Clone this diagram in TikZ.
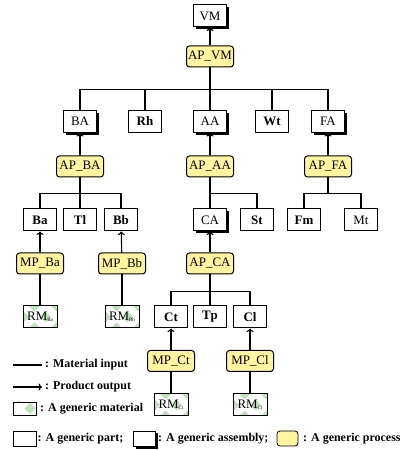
\documentclass[tikz,border=0pt]{standalone}
\usepackage{fontspec}
\setmainfont{Liberation Serif}
\usetikzlibrary{shadows,arrows.meta}
\definecolor{procfill}{RGB}{255,244,160}
\definecolor{matgreen}{RGB}{190,226,184}
\newcommand{\rmsub}[1]{RM\raisebox{-1.5bp}{\fontsize{5}{5}\selectfont #1}}
\begin{document}
\begin{tikzpicture}[x=1bp,y=1bp,
  txt/.style={font=\fontsize{13}{15}\selectfont},
  btxt/.style={font=\fontsize{13}{15}\selectfont\bfseries},
  ltxt/.style={font=\fontsize{12}{14}\selectfont\bfseries},
  box/.style={draw=black, line width=1bp, fill=white, minimum width=33bp, minimum height=22bp, inner sep=0pt, txt},
  bold/.style={btxt},
  assembly/.style={box, drop shadow={shadow xshift=2.5bp, shadow yshift=-2.5bp, fill=black, opacity=1}},
  proc/.style={box, fill=procfill, rounded corners=3bp, minimum width=47bp, minimum height=21bp},
  matpat/.style={path picture={
    \foreach \i in {-3,...,3}{\foreach \j in {-2,...,2}{
      \pgfmathtruncatemacro{\matpar}{mod(abs(\i+\j),2)}
      \ifnum\matpar=0
      \fill[matgreen] ([shift={(\i*11bp+5.5bp,\j*11bp)}]path picture bounding box.center) +(-5.5bp,0bp) -- +(0bp,5.5bp) -- +(5.5bp,0bp) -- +(0bp,-5.5bp) -- cycle;
      \fi
    }}}},
  mat/.style={box, minimum width=34bp, matpat},
  link/.style={line width=1.1bp},
  outarrow/.style={line width=1.1bp, -{To[length=3.5bp,width=7bp]}},
  legtext/.style={anchor=west, inner sep=0pt, ltxt},
]
\useasboundingbox (0,0) rectangle (403,450);

% level 0
\node[assembly] (VM) at (210,434) {VM};
\node[proc] (APVM) at (210,393.5) {AP\_VM};

% level 1
\node[assembly] (BA) at (80,328.5) {BA};
\node[box,bold] (Rh) at (145,328.5) {Rh};
\node[assembly] (AA) at (210,328.5) {AA};
\node[box,bold] (Wt) at (272,328.5) {Wt};
\node[assembly] (FA) at (328,328.5) {FA};

\node[proc] (APBA) at (80,283.5) {AP\_BA};
\node[proc] (APAA) at (210,283.5) {AP\_AA};
\node[proc] (APFA) at (328,283.5) {AP\_FA};

% level 2
\node[box,bold] (Ba) at (40,230) {Ba};
\node[box,bold] (Tl) at (80,230) {Tl};
\node[box,bold] (Bb) at (121,230) {Bb};
\node[assembly] (CA) at (210,230) {CA};
\node[box,bold] (St) at (257,230) {St};
\node[box,bold] (Fm) at (304,230) {Fm};
\node[box] (Mt) at (361,230) {Mt};

\node[proc] (MPBa) at (40,186.5) {MP\_Ba};
\node[proc] (MPBb) at (122,186.5) {MP\_Bb};
\node[proc] (APCA) at (210,186.5) {AP\_CA};

% level 3
\node[mat] (RMBa) at (40,133) {\rmsub{Ba}};
\node[mat] (RMBb) at (122,133) {\rmsub{Bb}};
\node[box,bold] (Ct) at (171,133) {Ct};
\node[box,bold] (Tp) at (210,133) {Tp};
\node[box,bold] (Cl) at (250,133) {Cl};

\node[proc] (MPCt) at (171,89) {MP\_Ct};
\node[proc] (MPCl) at (250,89) {MP\_Cl};

\node[mat] (RMCt) at (171,45) {\rmsub{Ct}};
\node[mat] (RMCl) at (250,45) {\rmsub{Cl}};

% connectors: process -> product
\draw[outarrow] (APVM) -- (VM);
\draw[outarrow] (APBA) -- (BA);
\draw[outarrow] (APAA) -- (AA);
\draw[outarrow] (APFA) -- (FA);
\draw[outarrow] (MPBa) -- (Ba);
\draw[outarrow] (MPBb) -- (Bb);
\draw[outarrow] (APCA) -- (CA);
\draw[outarrow] (MPCt) -- (Ct);
\draw[outarrow] (MPCl) -- (Cl);

% connectors: material inputs
\foreach \c in {BA,Rh,AA,Wt,FA} \draw[link] (APVM.south) -- ++(0,-22) -| (\c.north);
\foreach \c in {Ba,Tl,Bb} \draw[link] (APBA.south) -- ++(0,-16) -| (\c.north);
\foreach \c in {CA,St} \draw[link] (APAA.south) -- ++(0,-16) -| (\c.north);
\foreach \c in {Fm,Mt} \draw[link] (APFA.south) -- ++(0,-16) -| (\c.north);
\foreach \c in {Ct,Tp,Cl} \draw[link] (APCA.south) -- ++(0,-17) -| (\c.north);
\draw[link] (RMBa) -- (MPBa);
\draw[link] (RMBb) -- (MPBb);
\draw[link] (RMCt) -- (MPCt);
\draw[link] (RMCl) -- (MPCl);

% legend
\coordinate (L1a) at (13,85);
\coordinate (L1b) at (42,85);
\draw[link] (L1a) -- (L1b);
\node[legtext] (T1) at (45,85) {: Material input};
\coordinate (L2a) at (13,63);
\coordinate (L2b) at (42,63);
\draw[outarrow] (L2a) -- (L2b);
\node[legtext] (T2) at (45,63) {: Product output};
\node[mat, minimum width=23bp, minimum height=13bp, line width=0.8bp] (Lmat) at (24.5,41.5) {};
\node[legtext] (T3) at (40,41.5) {: A generic material};
\node[box, minimum width=23bp, minimum height=15bp, line width=0.8bp] (Lpart) at (24.5,11.5) {};
\node[legtext] (T4) at (37.5,11.5) {: A generic part;};
\node[assembly, minimum width=22bp, minimum height=15bp, line width=0.8bp] (Lasm) at (144,11.5) {};
\node[legtext] (T5) at (158,11.5) {: A generic assembly;};
\node[proc, minimum width=21bp, minimum height=15bp, line width=0.8bp] (Lproc) at (287.5,11.5) {};
\node[legtext] (T6) at (303,11.5) {: A generic process};
\end{tikzpicture}
\end{document}
